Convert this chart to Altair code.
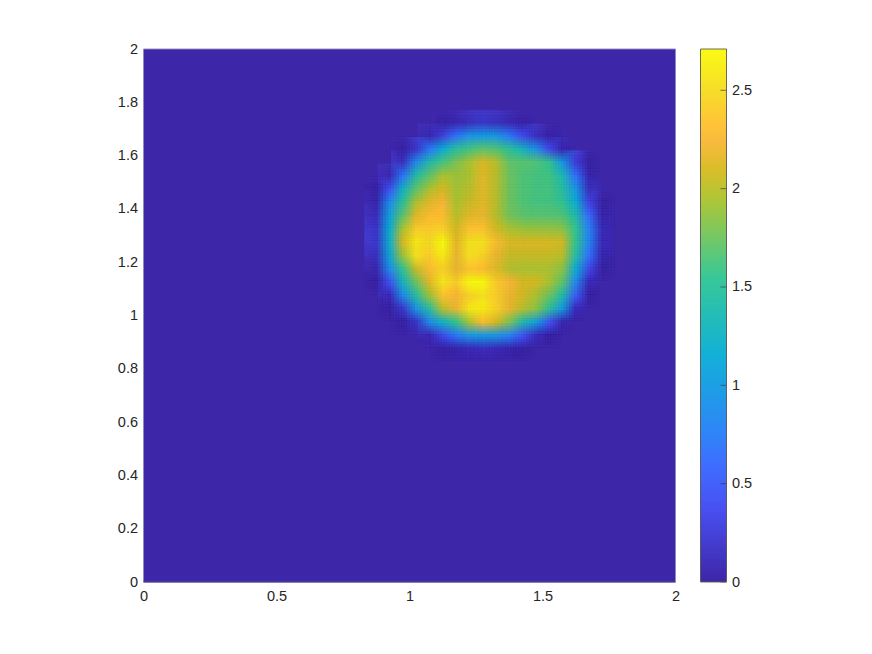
import altair as alt
import pandas as pd
import numpy as np

# Surface: cell size 0.05, columns from x=0.80, rows from y=1.80 downward
x_left = [round(0.80 + 0.05 * k, 2) for k in range(20)]
y_top = [round(1.80 - 0.05 * j, 2) for j in range(20)]
row_00 = [0]*20
row_01 = [0,0,0,0,0,0,.02,.06,.13,.18,.14,.07,.02,0,0,0,0,0,0,0]
row_02 = [0,0,0,0,0,.07,.28,.65,.92,1.0,.95,.72,.38,.14,.02,0,0,0,0,0]
row_03 = [0,0,0,.01,.18,.72,1.15,1.48,1.6,1.7,1.65,1.5,1.3,.9,.38,.05,0,0,0,0]
row_04 = [0,0,0,.15,.85,1.4,1.62,1.8,1.95,2.12,2.0,1.72,1.68,1.65,1.55,.98,.25,.01,0,0]
row_05 = [0,0,.08,.72,1.42,1.7,1.95,1.9,1.95,2.15,2.0,1.75,1.65,1.62,1.6,1.35,.65,.04,0,0]
row_06 = [0,.01,.42,1.25,1.7,1.95,2.1,1.92,2.0,2.15,2.0,1.75,1.65,1.62,1.62,1.45,.95,.14,0,0]
row_07 = [0,.05,.85,1.5,1.95,2.15,2.25,1.95,2.05,2.15,2.0,1.75,1.65,1.62,1.62,1.55,1.15,.32,.01,0]
row_08 = [0,.12,1.05,1.7,2.15,2.3,2.3,2.0,2.15,2.2,2.0,1.78,1.7,1.68,1.68,1.65,1.4,.6,.04,0]
row_09 = [0,.18,1.15,1.95,2.4,2.4,2.45,2.1,2.35,2.35,2.1,1.95,1.9,1.88,1.88,1.85,1.55,.78,.08,0]
row_10 = [0,.2,1.2,2.1,2.6,2.5,2.7,2.15,2.55,2.55,2.3,2.12,2.12,2.12,2.12,2.08,1.55,.8,.1,0]
row_11 = [0,.14,1.1,1.9,2.55,2.4,2.65,2.2,2.55,2.45,2.2,2.05,2.05,2.05,2.05,2.0,1.45,.65,.05,0]
row_12 = [0,.06,.88,1.55,2.05,2.3,2.45,2.2,2.35,2.3,2.15,1.98,1.95,1.95,1.95,1.85,1.15,.35,.01,0]
row_13 = [0,.01,.42,1.3,1.75,2.15,2.6,2.4,2.7,2.7,2.4,2.25,2.1,2.1,1.95,1.7,.85,.1,0,0]
row_14 = [0,0,.1,.85,1.45,1.9,2.35,2.25,2.45,2.55,2.4,2.2,2.1,1.95,1.75,1.4,.5,.01,0,0]
row_15 = [0,0,.01,.2,.95,1.45,2.0,2.2,2.6,2.65,2.45,2.2,2.0,1.85,1.5,1.0,.1,0,0,0]
row_16 = [0,0,0,.01,.18,.85,1.25,1.55,1.95,2.3,2.1,1.8,1.4,1.05,.45,.06,0,0,0,0]
row_17 = [0,0,0,0,0,.08,.38,.72,.95,1.0,.95,.78,.45,.12,.01,0,0,0,0,0]
row_18 = [0,0,0,0,0,0,.01,.04,.1,.13,.1,.05,.01,0,0,0,0,0,0,0]
row_19 = [0]*20
rows = [row_00,row_01,row_02,row_03,row_04,row_05,row_06,row_07,row_08,row_09,
        row_10,row_11,row_12,row_13,row_14,row_15,row_16,row_17,row_18,row_19]

x_ticks = [0, 0.5, 1, 1.5, 2]
y_ticks = [0, 0.2, 0.4, 0.6, 0.8, 1, 1.2, 1.4, 1.6, 1.8, 2]
bar_ticks = [0, 0.5, 1, 1.5, 2, 2.5]
c_max = 2.71
parula_stops = ["#3e26a8", "#4852f4", "#3e6fff", "#2d87f7", "#12b1d6", "#37c897", "#abc739", "#dcbd29", "#f8ba3d", "#fec338", "#f7dc2a", "#f9fb15"]
parula_at = [0, .143, .222, .286, .429, .571, .714, .778, .825, .857, .921, 1]

records = []
for j, row in enumerate(rows):
    for k, v in enumerate(row):
        if v > 0:
            records.append({"x": x_left[k], "x2": round(x_left[k] + .05, 2),
                            "y": round(y_top[j] - .05, 2), "y2": y_top[j], "v": v})
cells = pd.DataFrame(records)

color_scale = alt.Scale(domain=[c_max * p for p in parula_at], range=parula_stops, interpolate="rgb")
W, H = 532, 533
xs = alt.Scale(domain=[0, 2], nice=False)
ys = alt.Scale(domain=[0, 2], nice=False)
x_axis = alt.Axis(values=x_ticks, format="~g", title=None, grid=False, ticks=False, domain=False, labelPadding=7, labelAngle=0, labelFlush=False)
y_axis = alt.Axis(values=y_ticks, format="~g", title=None, grid=False, ticks=False, domain=False, labelPadding=6, labelFlush=False)

bg = alt.Chart(pd.DataFrame({"x": [0], "x2": [2], "y": [0], "y2": [2], "v": [0]})).mark_rect().encode(
    x=alt.X("x:Q", scale=xs, axis=x_axis), x2="x2:Q",
    y=alt.Y("y:Q", scale=ys, axis=y_axis), y2="y2:Q",
    color=alt.Color("v:Q", scale=color_scale, legend=None))

# same cells drawn at sub-cell offsets so that the coarse grid reads as a smooth surface
shifts = [-5.32, -2.66, 0, 2.66, 5.32]
layers = [bg]
n = 0
for dy in shifts:
    for dx in shifts:
        n += 1
        layers.append(alt.Chart(cells).mark_rect(xOffset=dx, x2Offset=dx, yOffset=dy, y2Offset=dy, opacity=1 / n).encode(
            x=alt.X("x:Q", scale=xs, axis=x_axis), x2="x2:Q",
            y=alt.Y("y:Q", scale=ys, axis=y_axis), y2="y2:Q",
            color=alt.Color("v:Q", scale=color_scale, legend=None)))
edge = alt.Chart(pd.DataFrame({"a": [0]})).mark_rect(fill=None, stroke="#8f8bbd", strokeWidth=0.9).encode(
    x=alt.value(0), x2=alt.value(W), y=alt.value(0), y2=alt.value(H))
base_edge = alt.Chart(pd.DataFrame({"a": [0]})).mark_rule(color="#2b1f78", strokeWidth=0.9).encode(
    x=alt.value(0), x2=alt.value(W), y=alt.value(H))
main = alt.layer(*layers, edge, base_edge).properties(width=W, height=H)

lv = np.linspace(0, c_max, 200)
bar_df = pd.DataFrame({"y": lv[:-1], "y2": [c_max] * 199, "v": (lv[:-1] + lv[1:]) / 2})
ybar = alt.Scale(domain=[0, c_max], nice=False)
bar_axis = alt.Axis(values=bar_ticks, format="~g", orient="right", title=None, grid=False, ticks=False, domain=False, labelPadding=5, labelFlush=False)
bar = alt.Chart(bar_df).mark_rect().encode(
    x=alt.value(0), x2=alt.value(26),
    y=alt.Y("y:Q", scale=ybar, axis=bar_axis),
    y2="y2:Q",
    order=alt.Order("y:Q"),
    color=alt.Color("v:Q", scale=color_scale, legend=None))
ticks = alt.Chart(pd.DataFrame({"t": bar_ticks})).mark_rule(color="#404040", strokeWidth=0.7).encode(
    x=alt.value(20), x2=alt.value(26), y=alt.Y("t:Q", scale=ybar, axis=bar_axis))
frame = alt.Chart(pd.DataFrame({"a": [0]})).mark_rect(fill=None, stroke="#5c5c55", strokeWidth=0.9).encode(
    x=alt.value(0), x2=alt.value(26), y=alt.value(0), y2=alt.value(H))
cbar = alt.layer(bar, ticks, frame).properties(width=26, height=H)

chart = alt.hconcat(main, cbar, spacing=19).resolve_scale(color="independent").properties(
    padding={"left": 108.5, "top": 33, "right": 10, "bottom": 10}
).configure_view(stroke=None).configure_axis(
    labelFont="Liberation Sans", labelFontSize=14.5, labelColor="#262626")
chart.save("out.html", embed_options={"renderer": "svg", "actions": False})
